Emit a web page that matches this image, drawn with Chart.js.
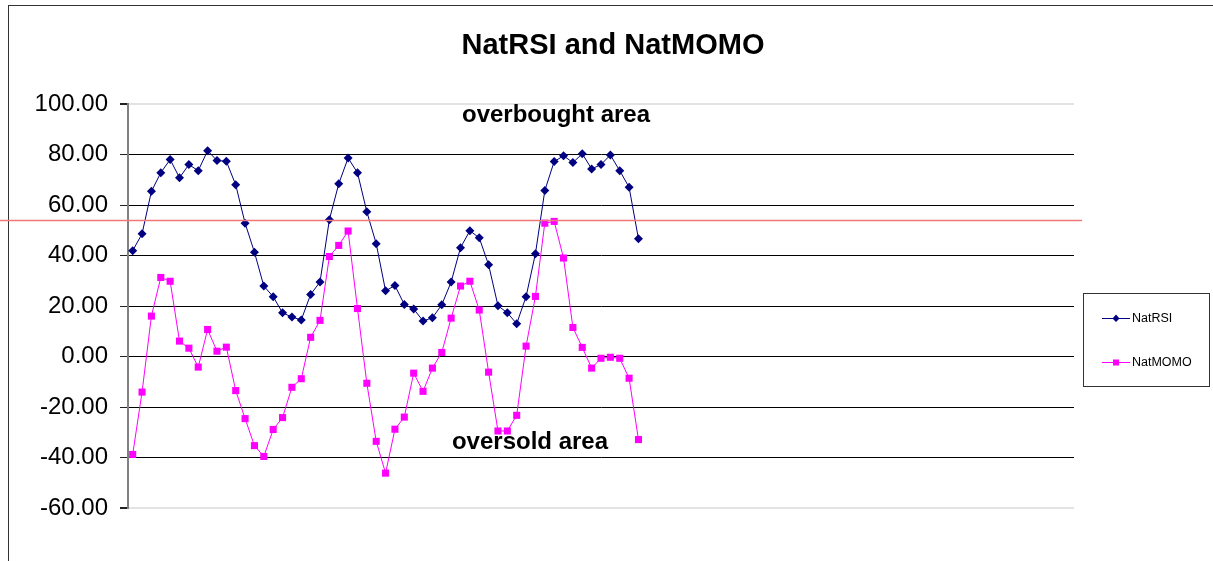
<!DOCTYPE html>
<html>
<head>
<meta charset="utf-8">
<script src="https://cdn.jsdelivr.net/npm/chart.js@4.4.1/dist/chart.umd.min.js"></script>
<style>
  html, body { margin: 0; padding: 0; background: #ffffff; }
  #wrap { position: relative; width: 1213px; height: 561px; }
</style>
</head>
<body>
<div id="wrap"><canvas id="c" width="1213" height="561"></canvas></div>
<script>
// ---- data ----
const categoryCount = 101;
const categories = Array.from({ length: categoryCount }, (_, i) => String(i + 1));

const natRSI = [
  41.9, 48.6, 65.4, 72.8, 78.0, 70.8, 76.0, 73.6, 81.5, 77.6,
  77.3, 68.0, 52.8, 41.3, 27.9, 23.7, 17.3, 15.6, 14.5, 24.6,
  29.5, 54.2, 68.4, 78.6, 72.8, 57.3, 44.7, 26.0, 28.1, 20.6,
  18.8, 14.1, 15.3, 20.5, 29.5, 43.1, 49.8, 47.0, 36.3, 20.1,
  17.3, 13.0, 23.7, 40.7, 65.7, 77.2, 79.5, 76.8, 80.3, 74.3,
  76.0, 79.8, 73.6, 67.0, 46.6
];

const natMOMO = [
  -38.8, -14.1, 16.0, 31.3, 29.8, 6.1, 3.3, -4.2, 10.7, 2.1,
  3.7, -13.5, -24.6, -35.3, -39.6, -28.9, -24.2, -12.2, -8.8, 7.6,
  14.3, 39.6, 44.0, 49.7, 19.0, -10.6, -33.6, -46.2, -28.8, -24.0,
  -6.6, -13.8, -4.6, 1.6, 15.2, 27.9, 29.8, 18.4, -6.2, -29.5,
  -29.5, -23.3, 4.1, 23.8, 52.8, 53.5, 39.0, 11.5, 3.6, -4.6,
  -0.7, -0.3, -0.7, -8.6, -32.9
];

const yTicks = [-60, -40, -20, 0, 20, 40, 60, 80, 100];
const signalLevel = 54;

const chartTitle = 'NatRSI and NatMOMO';
const overboughtText = 'overbought area';
const oversoldText = 'oversold area';

// ---- plugins ----
const FONT = '"Liberation Sans", Arial, Helvetica, sans-serif';

const decorPlugin = {
  id: 'decor',
  beforeDraw(chart) {
    const ctx = chart.ctx;
    ctx.save();
    ctx.fillStyle = '#ffffff';
    ctx.fillRect(0, 0, chart.width, chart.height);
    // outer frame
    ctx.strokeStyle = '#333333';
    ctx.lineWidth = 1;
    ctx.strokeRect(8.5, 5.5, chart.width + 10, chart.height + 10);
    ctx.restore();
  },
  afterDatasetsDraw(chart) {
    const ctx = chart.ctx;
    const y = chart.scales.y;
    ctx.save();
    // signal line
    const py = Math.round(y.getPixelForValue(signalLevel)) + 0.5;
    ctx.strokeStyle = '#f07878';
    ctx.lineWidth = 1.5;
    ctx.beginPath();
    ctx.moveTo(0, py);
    ctx.lineTo(1082, py);
    ctx.stroke();

    // title
    ctx.fillStyle = '#000000';
    ctx.textAlign = 'center';
    ctx.textBaseline = 'alphabetic';
    ctx.font = 'bold 29px ' + FONT;
    ctx.fillText(chartTitle, 613, 54);

    // annotations
    ctx.font = 'bold 24px ' + FONT;
    ctx.fillText(overboughtText, 556, 122);
    ctx.fillText(oversoldText, 530, 449);

    // legend
    ctx.strokeStyle = '#333333';
    ctx.lineWidth = 1;
    ctx.strokeRect(1083.5, 293.5, 126, 93);
    const entries = [
      { label: chart.data.datasets[0].label, color: '#000080', shape: 'diamond', y: 318 },
      { label: chart.data.datasets[1].label, color: '#ff00ff', shape: 'square', y: 362 }
    ];
    ctx.font = '12.5px ' + FONT;
    ctx.textAlign = 'left';
    ctx.textBaseline = 'middle';
    entries.forEach(e => {
      ctx.strokeStyle = e.color;
      ctx.fillStyle = e.color;
      ctx.beginPath();
      ctx.moveTo(1102, e.y + 0.5);
      ctx.lineTo(1130, e.y + 0.5);
      ctx.stroke();
      ctx.beginPath();
      if (e.shape === 'diamond') {
        ctx.moveTo(1116, e.y - 3.5);
        ctx.lineTo(1119.5, e.y + 0.5);
        ctx.lineTo(1116, e.y + 4);
        ctx.lineTo(1112.5, e.y + 0.5);
        ctx.closePath();
      } else {
        ctx.rect(1113, e.y - 2.5, 6, 6);
      }
      ctx.fill();
      ctx.fillStyle = '#000000';
      ctx.fillText(e.label, 1132, e.y + 1);
    });
    ctx.restore();
  }
};

// ---- chart ----
new Chart(document.getElementById('c'), {
  type: 'line',
  data: {
    labels: categories,
    datasets: [
      {
        label: 'NatRSI',
        data: natRSI,
        borderColor: '#000080',
        backgroundColor: '#000080',
        borderWidth: 1,
        pointStyle: 'rectRot',
        pointRadius: 4.5,
        pointBorderWidth: 0,
        pointBackgroundColor: '#000080',
        tension: 0,
        fill: false
      },
      {
        label: 'NatMOMO',
        data: natMOMO,
        borderColor: '#ff00ff',
        backgroundColor: '#ff00ff',
        borderWidth: 1,
        pointStyle: 'rect',
        pointRadius: 5,
        pointBorderWidth: 0,
        pointBackgroundColor: '#ff00ff',
        tension: 0,
        fill: false
      }
    ]
  },
  options: {
    responsive: false,
    animation: false,
    devicePixelRatio: 1,
    layout: { padding: { left: 0, right: 139, top: 104, bottom: 53 } },
    plugins: {
      legend: { display: false },
      title: { display: false },
      tooltip: { enabled: false }
    },
    scales: {
      x: {
        type: 'category',
        display: false,
        offset: true
      },
      y: {
        min: -60,
        max: 100,
        afterFit(scale) { scale.width = 128; },
        afterBuildTicks(scale) { scale.ticks = yTicks.map(v => ({ value: v })); },
        border: { display: true, color: '#808080', width: 2 },
        grid: {
          color: ctx => (ctx.tick && (ctx.tick.value === 100 || ctx.tick.value === -60)) ? '#e3e3e3' : '#000000',
          lineWidth: ctx => (ctx.tick && (ctx.tick.value === 100 || ctx.tick.value === -60)) ? 2 : 1,
          tickColor: '#222222',
          tickLength: 8,
          drawTicks: true
        },
        ticks: {
          color: '#000000',
          padding: 12,
          font: { family: FONT, size: 24 },
          callback: v => Number(v).toFixed(2)
        }
      }
    }
  },
  plugins: [decorPlugin]
});
</script>
</body>
</html>
